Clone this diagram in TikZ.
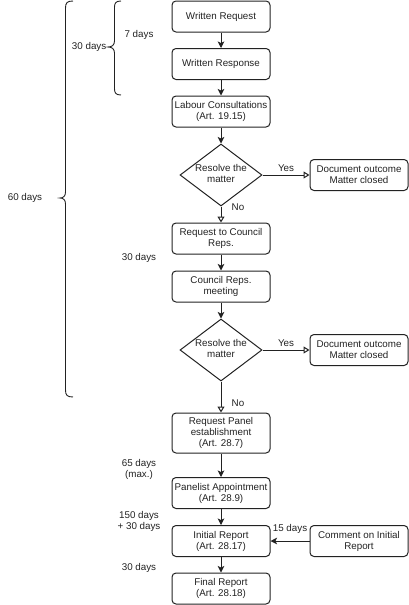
\documentclass[tikz,border=0pt]{standalone}
\usepackage{fontspec}
\setmainfont{Liberation Sans}
\usetikzlibrary{shapes.geometric,arrows.meta}
\definecolor{ink}{HTML}{222222}
\begin{document}
\begin{tikzpicture}[x=1pt,y=-1pt,
  every node/.style={font=\fontsize{9.8}{11}\selectfont, text=ink},
  box/.style={draw=ink, line width=1pt, rounded corners=4pt, minimum width=98pt, minimum height=31pt, align=center, inner sep=1pt},
  dia/.style={draw=ink, line width=1pt, diamond, minimum width=82pt, minimum height=62pt, inner sep=0pt},
  lbl/.style={align=center, inner sep=0pt},
  arr/.style={draw=ink, line width=1pt, -{Stealth[length=6.5pt,width=6.5pt,inset=1.5pt]}},
  oarr/.style={draw=ink, line width=1pt, -{Triangle[open,length=6pt,width=7pt]}},
  brace/.style={draw=ink, line width=0.9pt}]
\useasboundingbox (0,0) rectangle (409,605);

\node[box] (b1) at (221,16.5) {Written Request};
\node[box] (b2) at (221,64) {Written Response};
\node[box] (b3) at (221,111.5) {Labour Consultations\\(Art. 19.15)};
\node[dia] (d1) at (221,175) {};
\node[lbl] (d1t) at (221,173.5) {Resolve the\\matter};
\node[box] (r1) at (359,175) {Document outcome\\Matter closed};
\node[box] (b4) at (221,238.5) {Request to Council\\Reps.};
\node[box] (b5) at (221,286.5) {Council Reps.\\meeting};
\node[dia] (d2) at (221,350) {};
\node[lbl] (d2t) at (221,348.5) {Resolve the\\matter};
\node[box] (r2) at (359,350) {Document outcome\\Matter closed};
\node[box, minimum height=40pt] (b6) at (221,433) {Request Panel\\establishment\\(Art. 28.7)};
\node[box] (b7) at (221,493) {Panelist Appointment\\(Art. 28.9)};
\node[box] (b8) at (221,541) {Initial Report\\(Art. 28.17)};
\node[box] (b9) at (221,588.5) {Final Report\\(Art. 28.18)};
\node[box] (r3) at (359,541) {Comment on Initial\\Report};

\draw[arr] (b1) -- (b2);
\draw[arr] (b2) -- (b3);
\draw[arr] (b3) -- (d1.north);
\draw[oarr] (d1.east) -- (r1.west) node[lbl, midway, above=3pt] {Yes};
\draw[oarr] (d1.south) -- (b4.north);
\node[lbl] (no1) at (238,207) {No};
\draw[arr] (b4) -- (b5);
\draw[arr] (b5) -- (d2.north);
\draw[oarr] (d2.east) -- (r2.west) node[lbl, midway, above=3pt] {Yes};
\draw[oarr] (d2.south) -- (b6.north);
\node[lbl] (no2) at (238,403) {No};
\draw[arr] (b6) -- (b7);
\draw[arr] (b7) -- (b8);
\draw[arr] (b8) -- (b9);
\draw[arr] (r3) -- (b8);
\node[lbl] (l15) at (290,529) {15 days};

\node[lbl] (l7) at (139,35) {7 days};
\node[lbl, anchor=east] (l30a) at (106.5,47) {30 days};
\node[lbl] (l60) at (25,198) {60 days};
\node[lbl] (l30b) at (139,258) {30 days};
\node[lbl] (l65) at (139,469) {65 days\\(max.)};
\node[lbl] (l150) at (139,521) {150 days\\+ 30 days};
\node[lbl] (l30c) at (139,568) {30 days};

% big brace
\draw[brace] (73,1) .. controls (67,1) and (65.5,3) .. (65.5,8) -- (65.5,192)
  .. controls (65.5,196) and (63.5,198) .. (60,198)
  .. controls (63.5,198) and (65.5,200) .. (65.5,204) -- (65.5,390)
  .. controls (65.5,395) and (67,397) .. (73,397);
% small brace
\draw[brace] (121,1) .. controls (116,1) and (114.5,3) .. (114.5,7) -- (114.5,41)
  .. controls (114.5,45) and (112,47) .. (108,47)
  .. controls (112,47) and (114.5,49) .. (114.5,53) -- (114.5,89)
  .. controls (114.5,93) and (116,95) .. (121,95);
\end{tikzpicture}
\end{document}
